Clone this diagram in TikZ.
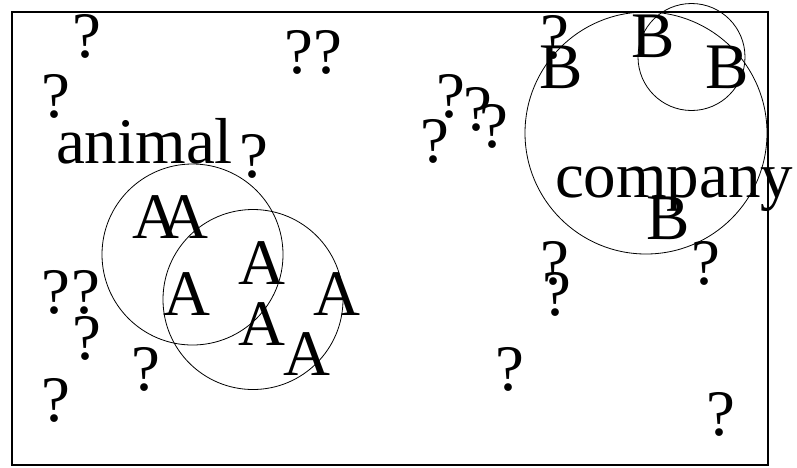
\documentclass[tikz,border=0pt]{standalone}
\usepackage{fontspec}
\setmainfont{Liberation Serif}
\begin{document}
\begin{tikzpicture}[x=1pt,y=-1pt,
  lbl/.style={anchor=base,inner sep=0pt,outer sep=0pt,font=\fontsize{65}{78}\selectfont},
  lblw/.style={anchor=base west,inner sep=0pt,outer sep=0pt,font=\fontsize{65}{78}\selectfont},
  ring/.style={draw=black,line width=0.8pt},
  framebox/.style={draw=black,line width=1.6pt}]
\useasboundingbox (0,0) rectangle (797,467);
\draw[framebox] (12,12) rectangle (768,465);
% circles
\coordinate (c1) at (192.5,254.5);
\coordinate (c2) at (253,299.5);
\coordinate (c3) at (646,133);
\coordinate (c4) at (691.5,57);
\draw[ring] (c1) circle[radius=90.5];
\draw[ring] (c2) circle[radius=90];
\draw[ring] (c3) circle[radius=121];
\draw[ring] (c4) circle[radius=53.5];
% labels
\node[lblw] (animal) at (56,163) {animal};
\node[lblw] (company) at (555,197) {company};
% A's
\node[lbl] (a1) at (156,238) {A};
\node[lbl] (a2) at (185,238) {A};
\node[lbl] (a3) at (187,315) {A};
\node[lbl] (a4) at (262,284) {A};
\node[lbl] (a5) at (262,345) {A};
\node[lbl] (a6) at (337,315) {A};
\node[lbl] (a7) at (307,375) {A};
% B's
\node[lbl] (b1) at (561,88) {B};
\node[lbl] (b2) at (653,57) {B};
\node[lbl] (b3) at (727,88) {B};
\node[lbl] (b4) at (668,239) {B};
% question marks
\node[lbl] (q1) at (87,57) {?};
\node[lbl] (q2) at (56,117) {?};
\node[lbl] (q3) at (299,73) {?};
\node[lbl] (q4) at (328,73) {?};
\node[lbl] (q5) at (254,177) {?};
\node[lbl] (q6) at (555,58) {?};
\node[lbl] (q7) at (435,162) {?};
\node[lbl] (q8) at (451,117) {?};
\node[lbl] (q9) at (478,130) {?};
\node[lbl] (q10) at (494,147) {?};
\node[lbl] (q11) at (56,313) {?};
\node[lbl] (q12) at (86,313) {?};
\node[lbl] (q13) at (87,359) {?};
\node[lbl] (q14) at (56,421) {?};
\node[lbl] (q15) at (146,390) {?};
\node[lbl] (q16) at (555,284) {?};
\node[lbl] (q17) at (557,315) {?};
\node[lbl] (q18) at (706,284) {?};
\node[lbl] (q19) at (510,390) {?};
\node[lbl] (q20) at (721,435) {?};
\end{tikzpicture}
\end{document}
